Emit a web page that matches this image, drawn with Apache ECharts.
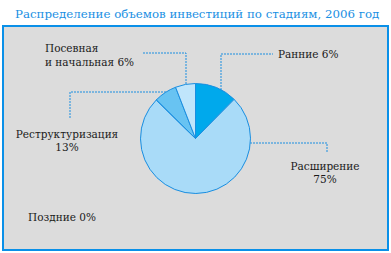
<!DOCTYPE html>
<html>
<head>
<meta charset="utf-8">
<script src="https://cdn.jsdelivr.net/npm/echarts@6/dist/echarts.min.js"></script>
<style>
html,body{margin:0;padding:0;background:#ffffff;}
#chart{width:391px;height:253px;}
</style>
</head>
<body>
<div id="chart"></div>
<script>
// ---- data ----
var titleText = 'Распределение объемов инвестиций по стадиям, 2006 год';
var stageNames = ['Ранние', 'Расширение', 'Поздние', 'Реструктуризация', 'Посевная\nи начальная'];
// slice sizes as drawn in the picture (share of the circle, %)
var sliceValues = [12.4, 75, 0, 6.7, 5.9];
// percentages as printed in the labels
var labelPercents = [6, 75, 0, 13, 6];

// ---- styling / layout (not data) ----
var sliceColors = ['#00a9ec', '#a9dbf8', '#a9dbf8', '#68c3f2', '#c0e5fb'];
var labelSep = [' ', '\n', ' ', '\n', ' '];
var labelLayouts = [
  {x: 278, y: 54, align: 'left', line: [[221, 90], [221, 54], [273, 54]]},
  {x: 325, y: 172.5, align: 'center', line: [[250, 143], [327, 143], [327, 152]]},
  {x: 28, y: 217, align: 'left', line: null},
  {x: 67, y: 140.5, align: 'center', line: [[166, 92], [70, 92], [70, 119]]},
  {x: 45, y: 55, align: 'left', line: [[186, 84], [186, 53], [143, 53]]}
];
var FONT = 'DejaVu Serif';

var chart = echarts.init(document.getElementById('chart'), null, {renderer: 'svg'});

var data = stageNames.map(function (n, i) {
  return {
    name: n,
    value: sliceValues[i],
    itemStyle: {color: sliceColors[i]},
    labelLine: {show: !!labelLayouts[i].line}
  };
});

chart.setOption({
  animation: false,
  title: {
    text: titleText,
    left: 10,
    top: 3,
    textStyle: {fontFamily: FONT, fontSize: 11.8, fontWeight: 'normal', color: '#1a8fe3'}
  },
  graphic: [{
    type: 'rect',
    z: -10,
    shape: {x: 3, y: 26, width: 385, height: 224},
    style: {fill: '#dcdcdc', stroke: '#0a90e8', lineWidth: 2}
  }],
  series: [{
    type: 'pie',
    center: [195.5, 138.5],
    radius: 55,
    startAngle: 90,
    clockwise: true,
    minAngle: 0,
    avoidLabelOverlap: false,
    stillShowZeroSum: true,
    itemStyle: {borderColor: '#1a8ee0', borderWidth: 1},
    emphasis: {disabled: true},
    label: {
      show: true,
      fontFamily: FONT,
      fontSize: 10.5,
      color: '#1a1a1a',
      lineHeight: 13.5,
      formatter: function (p) {
        return stageNames[p.dataIndex] + labelSep[p.dataIndex] + labelPercents[p.dataIndex] + '%';
      }
    },
    labelLine: {
      show: true,
      lineStyle: {color: '#1a8ee0', width: 1, type: [2, 1]}
    },
    labelLayout: function (params) {
      var L = labelLayouts[params.dataIndex];
      var r = {x: L.x, y: L.y, align: L.align, verticalAlign: 'middle'};
      if (L.line) r.labelLinePoints = L.line;
      return r;
    },
    data: data
  }]
});
</script>
</body>
</html>
